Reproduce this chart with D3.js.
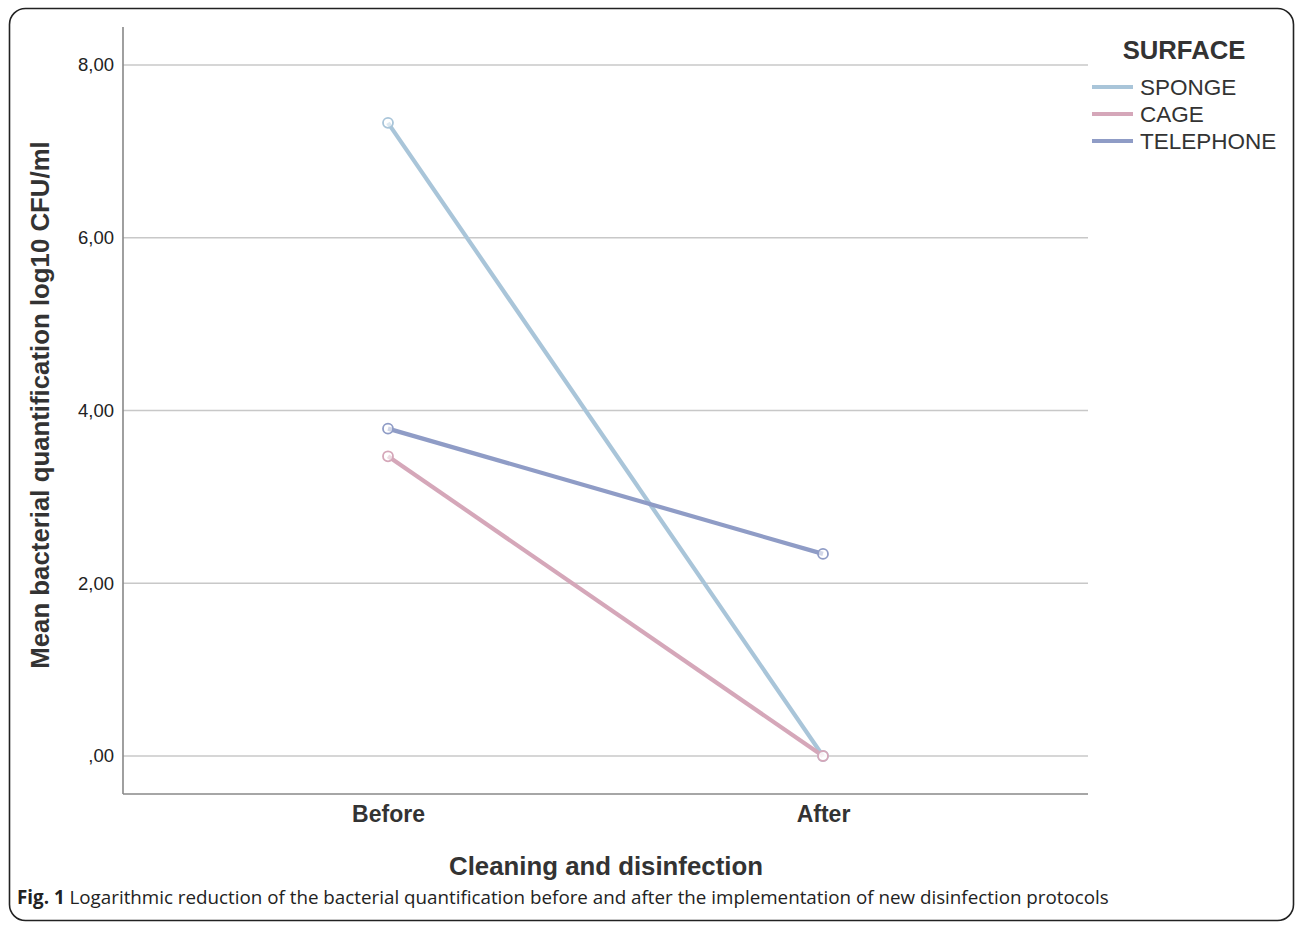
<!DOCTYPE html>
<html><head><meta charset="utf-8">
<script src="https://cdn.jsdelivr.net/npm/d3@7"></script>
<style>body{margin:0;background:#fff;} svg{display:block;}
svg text{font-family:"Liberation Sans", Arimo, Arial, sans-serif;}
svg text.cap{font-family:"Open Sans", "Noto Sans", sans-serif;}
</style>
</head><body>
<script>
const categories = ["Before", "After"];
const seriesNames = ["SPONGE", "CAGE", "TELEPHONE"];
const sponge = [7.33, 0.00];
const cage = [3.47, 0.00];
const telephone = [3.79, 2.34];
const yTicks = [0, 2, 4, 6, 8];
const yTickLabels = [",00", "2,00", "4,00", "6,00", "8,00"];
const colors = ["#a9c5d9", "#d5a7b9", "#8f9cc6"];

(function () {
const series = [sponge, cage, telephone];
const W = 1296, H = 927;
const svg = d3.select("body").append("svg").attr("width", W).attr("height", H);

// outer frame
svg.append("rect").attr("x", 9.5).attr("y", 8.5).attr("width", 1284).attr("height", 912)
  .attr("rx", 16).attr("fill", "none").attr("stroke", "#222").attr("stroke-width", 1.6);

const pLeft = 123, pRight = 1088, pTop = 27, pBottom = 794;
const y = d3.scaleLinear().domain([0, 8]).range([756, 65]);
const x = d3.scalePoint().domain(categories).range([388, 823]);

// gridlines
svg.append("g").selectAll("line").data(yTicks).join("line")
  .attr("x1", pLeft).attr("x2", pRight).attr("y1", d => y(d)).attr("y2", d => y(d))
  .attr("stroke", "#c8c8c8").attr("stroke-width", 1.6);

// y axis
const yAxis = d3.axisLeft(y).tickValues(yTicks).tickSize(0).tickPadding(9)
  .tickFormat((d, i) => yTickLabels[i]);
const gy = svg.append("g").attr("transform", `translate(${pLeft},0)`).call(yAxis);
gy.attr("font-family", null);
gy.select(".domain").remove();
gy.selectAll("text").attr("font-size", 18.5).attr("fill", "#222");
svg.append("line").attr("x1", pLeft).attr("x2", pLeft).attr("y1", pTop).attr("y2", pBottom)
  .attr("stroke", "#888").attr("stroke-width", 1.6);

// x axis
const xAxis = d3.axisBottom(x).tickSize(0).tickPadding(12);
const gx = svg.append("g").attr("transform", `translate(0,${pBottom})`).call(xAxis);
gx.attr("font-family", null);
gx.select(".domain").remove();
gx.selectAll("text").attr("font-size", 23).attr("font-weight", "bold").attr("fill", "#333");
svg.append("line").attr("x1", pLeft).attr("x2", pRight).attr("y1", pBottom).attr("y2", pBottom)
  .attr("stroke", "#888").attr("stroke-width", 1.6);

// lines
const line = d3.line().x((d, i) => x(categories[i])).y(d => y(d));
series.forEach((s, k) => {
  svg.append("path").datum(s).attr("d", line).attr("fill", "none")
    .attr("stroke", colors[k]).attr("stroke-width", 4.2);
});
series.forEach((s, k) => {
  svg.append("g").selectAll("circle").data(s).join("circle")
    .attr("cx", (d, i) => x(categories[i])).attr("cy", d => y(d)).attr("r", 5)
    .attr("fill", "#fff").attr("fill-opacity", 0.6)
    .attr("stroke", colors[k]).attr("stroke-width", 1.8);
});

// axis titles
svg.append("text").attr("transform", `translate(49,405) rotate(-90)`).attr("text-anchor", "middle")
  .attr("font-size", 25.8).attr("font-weight", "bold").attr("fill", "#333")
  .text("Mean bacterial quantification log10 CFU/ml");
svg.append("text").attr("x", 606).attr("y", 875).attr("text-anchor", "middle")
  .attr("font-size", 25.8).attr("font-weight", "bold").attr("fill", "#333")
  .text("Cleaning and disinfection");

// legend
svg.append("text").attr("x", 1184).attr("y", 59).attr("text-anchor", "middle")
  .attr("font-size", 25.7).attr("font-weight", "bold").attr("fill", "#333").text("SURFACE");
const lg = svg.append("g").selectAll("g").data(seriesNames).join("g")
  .attr("transform", (d, i) => `translate(0,${87 + i * 27})`);
lg.append("line").attr("x1", 1092).attr("x2", 1133).attr("y1", 0).attr("y2", 0)
  .attr("stroke", (d, i) => colors[i]).attr("stroke-width", 4.2);
lg.append("text").attr("x", 1140).attr("y", 8)
  .attr("font-size", 22.5).attr("fill", "#333").text(d => d);

// caption
const cap = svg.append("text").attr("class", "cap").attr("x", 17).attr("y", 904)
  .attr("font-size", 18.8).attr("fill", "#222");
cap.append("tspan").attr("font-weight", "bold").text("Fig. 1");
cap.append("tspan").text(" Logarithmic reduction of the bacterial quantification before and after the implementation of new disinfection protocols");
})();
</script>
</body></html>
